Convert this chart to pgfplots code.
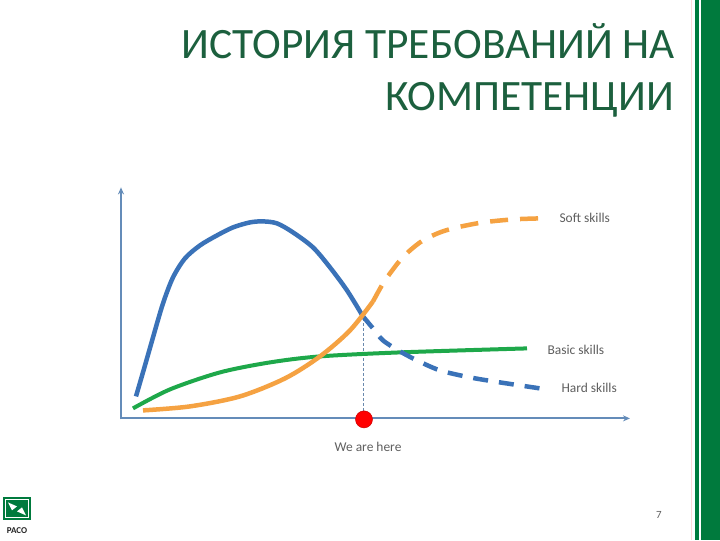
\documentclass[border=0pt]{standalone}
\usepackage{pgfplots}
\pgfplotsset{compat=1.18}
\usepackage{fontspec}
\setmainfont{Carlito}
\usetikzlibrary{arrows.meta}
\definecolor{titlegreen}{RGB}{28,96,62}
\definecolor{barGreen}{RGB}{0,122,61}
\definecolor{hardblue}{RGB}{58,114,184}
\definecolor{softorange}{RGB}{245,162,66}
\definecolor{basicgreen}{RGB}{30,168,74}
\definecolor{axisblue}{RGB}{100,140,185}
\definecolor{labelgray}{RGB}{95,95,95}
\begin{document}
\begin{tikzpicture}
\fill[white] (0,0) rectangle (720bp,540bp);
\begin{axis}[at={(0,0)}, anchor=south west, scale only axis,
  width=720bp, height=540bp, xmin=0, xmax=720, ymin=0, ymax=540,
  y dir=reverse, hide axis, clip=false]
% decorations
\fill[barGreen] (axis cs:695,0) rectangle (axis cs:699,540);
\fill[barGreen] (axis cs:701,0) rectangle (axis cs:720,540);
\draw[red!15, line width=0.8bp] (axis cs:691,0) -- (axis cs:691,540);
% axes
\addplot[axisblue, line width=1.8bp, -{Stealth[length=7bp,width=6bp]}] coordinates {(121,419) (121,187)};
\addplot[axisblue, line width=1.8bp, -{Stealth[length=7bp,width=6bp]}] coordinates {(120,418) (630,418)};
% guide line
\addplot[axisblue!80!gray, line width=0.7bp, dash pattern=on 3bp off 2bp] coordinates {(363,318) (363,412)};
% basic skills
\addplot[basicgreen, line width=4bp, smooth] coordinates {(133,408) (170,389) (220,372) (270,362) (320,356) (400,352) (527,348)};
% hard skills
\addplot[hardblue, line width=4.5bp, smooth] coordinates {(136,396) (145,365) (153,337) (163,303) (173,277) (185,258) (200,245) (217,235) (233,227) (250,222) (263,221) (277,223) (293,232) (313,247) (330,267) (347,290) (363,316)};
\addplot[hardblue, line width=4.5bp, smooth, dash pattern=on 15bp off 11bp] coordinates {(363,316) (373,328) (383,340) (400,351) (417,360) (440,370) (470,377) (500,382) (540,388)};
% soft skills
\addplot[softorange, line width=4.5bp, smooth] coordinates {(143,410) (190,406) (240,396) (285,378) (320,356) (350,330) (373,301)};
\addplot[softorange, line width=4.5bp, smooth, dash pattern=on 18bp off 12bp] coordinates {(373,301) (383,283) (390,273) (400,260) (410,250) (423,240) (440,232) (457,227) (483,222) (513,219) (540,218)};
% we are here
\addplot[only marks, mark=*, mark size=8.5bp, mark options={fill=red, draw=red!80!black, line width=0.5bp}] coordinates {(364,419)};
% labels
\node[anchor=west, text=labelgray, font=\fontsize{13.5}{14}\selectfont] at (axis cs:556,217) {Soft skills};
\node[anchor=west, text=labelgray, font=\fontsize{13.5}{14}\selectfont] at (axis cs:544,349) {Basic skills};
\node[anchor=west, text=labelgray, font=\fontsize{13.5}{14}\selectfont] at (axis cs:558,387) {Hard skills};
\node[text=labelgray, font=\fontsize{13.5}{14}\selectfont] at (axis cs:368,446) {We are here};
\node[text=labelgray, font=\fontsize{11}{12}\selectfont] at (axis cs:659,515) {7};
% title
\node[anchor=base east, text=titlegreen, font=\fontsize{43.5}{52}\selectfont, inner sep=0pt] at (axis cs:675,58.5) {ИСТОРИЯ ТРЕБОВАНИЙ НА};
\node[anchor=base east, text=titlegreen, font=\fontsize{43.5}{52}\selectfont, inner sep=0pt] at (axis cs:674,110.5) {КОМПЕТЕНЦИИ};
% logo
\fill[barGreen] (axis cs:3,497) rectangle (axis cs:31,520);
\draw[white, line width=1bp] (axis cs:5.5,499.5) rectangle (axis cs:28.5,517.5);
\fill[white] (axis cs:8,502) -- (axis cs:17,506) -- (axis cs:12,510) -- cycle;
\fill[white] (axis cs:26,515) -- (axis cs:17,511) -- (axis cs:22,507) -- cycle;
\node[text=black!85, font=\bfseries\fontsize{9}{9}\selectfont, inner sep=0pt] at (axis cs:17,530) {PACO};
\end{axis}
\end{tikzpicture}
\end{document}
